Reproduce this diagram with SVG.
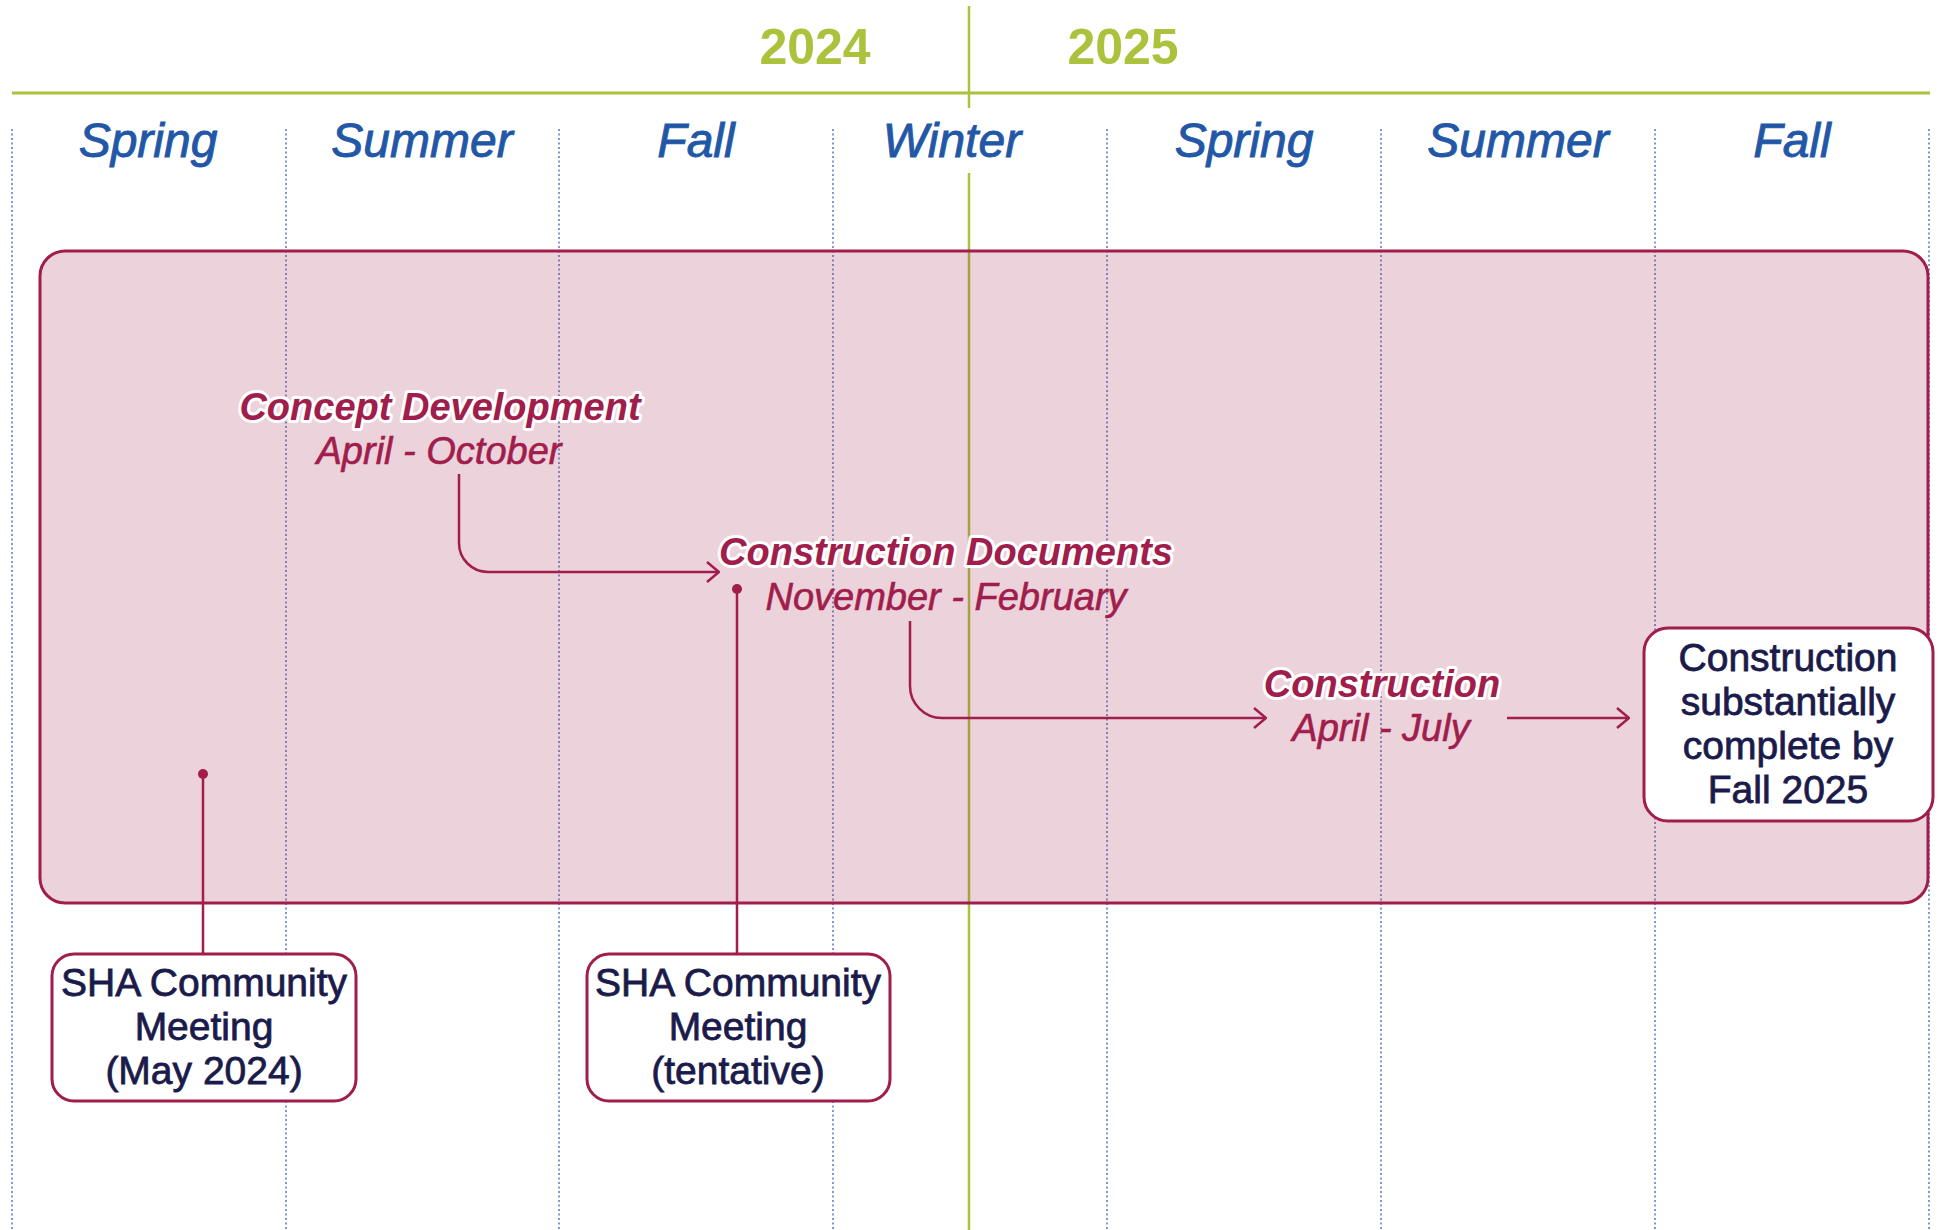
<svg xmlns="http://www.w3.org/2000/svg" width="1939" height="1230" viewBox="0 0 1939 1230">
<defs>
<style>
.grid{stroke:#4060b8;stroke-width:1.3;stroke-dasharray:2 2.5;fill:none}
.green{stroke:#abc23c;fill:none}
.year{font-family:"Liberation Sans",Arial,sans-serif;font-weight:bold;font-size:50px;fill:#abc23c;text-anchor:middle}
.season{font-family:"Liberation Sans",Arial,sans-serif;font-style:italic;font-size:48px;fill:#2257a7;stroke:#2257a7;stroke-width:0.9;text-anchor:middle}
.phase{font-family:"Liberation Sans",Arial,sans-serif;font-style:italic;font-weight:bold;font-size:38px;fill:#a01d4c;text-anchor:middle;stroke:#ffffff;stroke-width:6;paint-order:stroke;stroke-linejoin:round}
.dates{font-family:"Liberation Sans",Arial,sans-serif;font-style:italic;font-size:38px;fill:#a01d4c;stroke:#a01d4c;stroke-width:0.6;text-anchor:middle}
.box{fill:#ffffff;stroke:#a01d4c;stroke-width:3}
.boxtext{font-family:"Liberation Sans",Arial,sans-serif;font-size:39px;fill:#1b1b4b;stroke:#1b1b4b;stroke-width:0.8;text-anchor:middle}
.conn{fill:none;stroke:#a01d4c;stroke-width:2.5}
.dot{fill:#a01d4c}
</style>
<marker id="arrow" viewBox="0 0 14 22" refX="13" refY="11" markerWidth="14" markerHeight="22" markerUnits="userSpaceOnUse" orient="auto">
<path d="M1,1 L13,11 L1,21" fill="none" stroke="#a01d4c" stroke-width="2.5"/>
</marker>
</defs>
<rect x="0" y="0" width="1939" height="1230" fill="#ffffff"/>

<g id="grid">
<line class="grid" x1="12" y1="129" x2="12" y2="1230"/>
<line class="grid" x1="286" y1="129" x2="286" y2="1230"/>
<line class="grid" x1="559" y1="129" x2="559" y2="1230"/>
<line class="grid" x1="833" y1="129" x2="833" y2="1230"/>
<line class="grid" x1="1107" y1="129" x2="1107" y2="1230"/>
<line class="grid" x1="1381" y1="129" x2="1381" y2="1230"/>
<line class="grid" x1="1655" y1="129" x2="1655" y2="1230"/>
<line class="grid" x1="1929" y1="129" x2="1929" y2="1230"/>
</g>

<g id="year-axis">
<line class="green" x1="12" y1="93" x2="1930" y2="93" stroke-width="3"/>
<line class="green" x1="969" y1="6" x2="969" y2="108" stroke-width="2.5"/>
<line class="green" x1="969" y1="173" x2="969" y2="1230" stroke-width="2.5"/>
<text class="year" x="815" y="64">2024</text>
<text class="year" x="1123" y="64">2025</text>
</g>

<g id="seasons">
<text class="season" x="148" y="157">Spring</text>
<text class="season" x="422" y="157">Summer</text>
<text class="season" x="696" y="157">Fall</text>
<text class="season" x="952" y="157">Winter</text>
<text class="season" x="1244" y="157">Spring</text>
<text class="season" x="1518" y="157">Summer</text>
<text class="season" x="1792" y="157">Fall</text>
</g>

<g id="project-period">
<rect x="40" y="251" width="1888" height="652" rx="25" fill="#9e1c4a" fill-opacity="0.2" stroke="#a01d4c" stroke-width="3"/>
</g>

<g id="connectors">
<path class="conn" d="M459,474 V543 A29,29 0 0 0 488,572 H719" marker-end="url(#arrow)"/>
<path class="conn" d="M910,621 V686 A32,32 0 0 0 942,718 H1266" marker-end="url(#arrow)"/>
<path class="conn" d="M1507,718 H1629" marker-end="url(#arrow)"/>
<path class="conn" d="M203,774 V954"/>
<circle class="dot" cx="203" cy="774" r="5"/>
<path class="conn" d="M737,589 V954"/>
<circle class="dot" cx="737" cy="589" r="5"/>
</g>

<g id="concept-development">
<text class="phase" x="440" y="420">Concept Development</text>
<text class="dates" x="439" y="464">April - October</text>
</g>

<g id="construction-documents">
<text class="phase" x="946" y="565">Construction Documents</text>
<text class="dates" x="946" y="610">November - February</text>
</g>

<g id="construction">
<text class="phase" x="1382" y="697">Construction</text>
<text class="dates" x="1381" y="741">April - July</text>
</g>

<g id="complete-box">
<rect class="box" x="1644" y="628" width="289" height="193" rx="24"/>
<text class="boxtext" x="1788" y="671">Construction</text>
<text class="boxtext" x="1788" y="715">substantially</text>
<text class="boxtext" x="1788" y="759">complete by</text>
<text class="boxtext" x="1788" y="803">Fall 2025</text>
</g>

<g id="meeting-may">
<rect class="box" x="52" y="954" width="304" height="147" rx="22"/>
<text class="boxtext" x="204" y="996">SHA Community</text>
<text class="boxtext" x="204" y="1040">Meeting</text>
<text class="boxtext" x="204" y="1084">(May 2024)</text>
</g>

<g id="meeting-tentative">
<rect class="box" x="587" y="954" width="303" height="147" rx="22"/>
<text class="boxtext" x="738" y="996">SHA Community</text>
<text class="boxtext" x="738" y="1040">Meeting</text>
<text class="boxtext" x="738" y="1084">(tentative)</text>
</g>
</svg>
